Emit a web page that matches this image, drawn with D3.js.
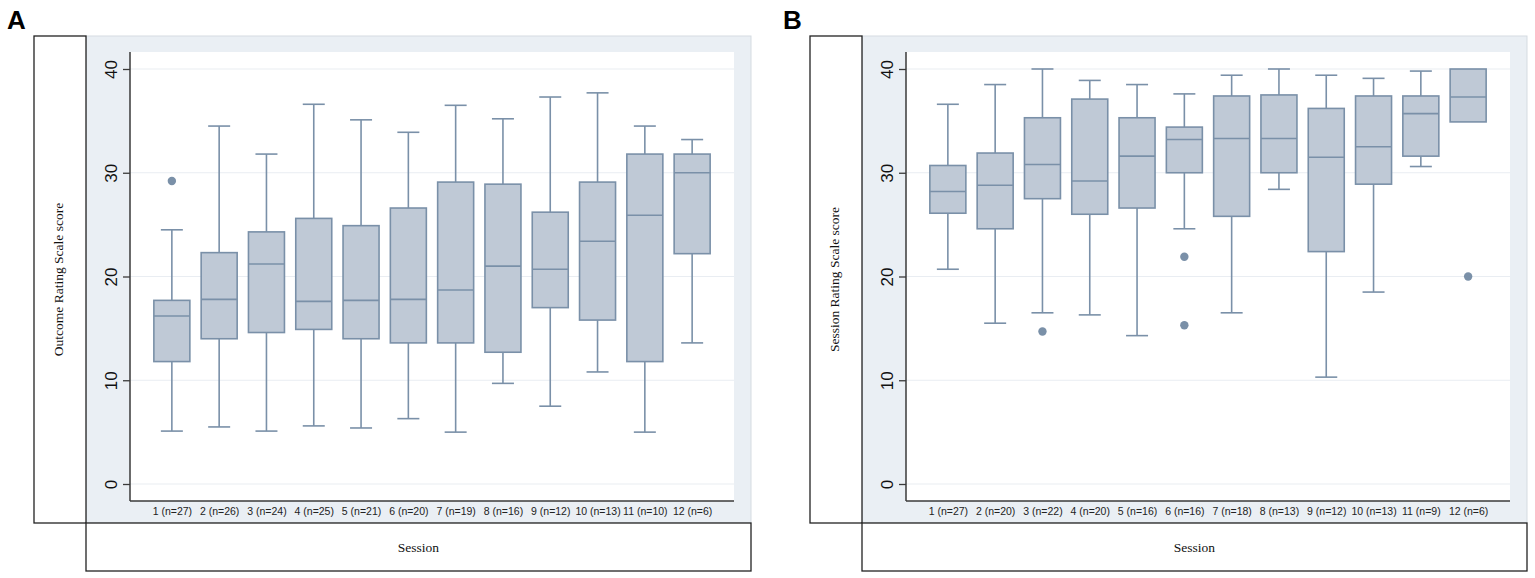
<!DOCTYPE html>
<html>
<head>
<meta charset="utf-8">
<script src="https://cdn.jsdelivr.net/npm/d3@7"></script>
<style>
  html, body { margin: 0; padding: 0; background: #ffffff; }
  svg { display: block; }
</style>
</head>
<body>
<svg id="chart" width="1535" height="578"></svg>
<script>
// ---------- Data ----------
const sessions = ["1","2","3","4","5","6","7","8","9","10","11","12"];
const yTicks = [0, 10, 20, 30, 40];

// Panel A: Outcome Rating Scale
const nA    = [27, 26, 24, 25, 21, 20, 19, 16, 12, 13, 10, 6];
const lowA  = [5.1, 5.5, 5.1, 5.6, 5.4, 6.3, 5.0, 9.7, 7.5, 10.8, 5.0, 13.6];
const q1A   = [11.8, 14.0, 14.6, 14.9, 14.0, 13.6, 13.6, 12.7, 17.0, 15.8, 11.8, 22.2];
const medA  = [16.2, 17.8, 21.2, 17.6, 17.7, 17.8, 18.7, 21.0, 20.7, 23.4, 25.9, 30.0];
const q3A   = [17.7, 22.3, 24.3, 25.6, 24.9, 26.6, 29.1, 28.9, 26.2, 29.1, 31.8, 31.8];
const highA = [24.5, 34.5, 31.8, 36.6, 35.1, 33.9, 36.5, 35.2, 37.3, 37.7, 34.5, 33.2];
const outSessionA = ["1"];
const outValueA   = [29.2];

// Panel B: Session Rating Scale
const nB    = [27, 20, 22, 20, 16, 16, 18, 13, 12, 13, 9, 6];
const lowB  = [20.7, 15.5, 16.5, 16.3, 14.3, 24.6, 16.5, 28.4, 10.3, 18.5, 30.6, 34.9];
const q1B   = [26.1, 24.6, 27.5, 26.0, 26.6, 30.0, 25.8, 30.0, 22.4, 28.9, 31.6, 34.9];
const medB  = [28.2, 28.8, 30.8, 29.2, 31.6, 33.2, 33.3, 33.3, 31.5, 32.5, 35.7, 37.3];
const q3B   = [30.7, 31.9, 35.3, 37.1, 35.3, 34.4, 37.4, 37.5, 36.2, 37.4, 37.4, 40.0];
const highB = [36.6, 38.5, 40.0, 38.9, 38.5, 37.6, 39.4, 40.0, 39.4, 39.1, 39.8, 40.0];
const outSessionB = ["3", "6", "6", "12"];
const outValueB   = [14.7, 21.9, 15.3, 20.0];

// ---------- Styles ----------
const boxFill = "#bfc9d6";
const boxStroke = "#7a90a8";
const regionFill = "#eaeff4";
const gridColor = "#e9edf2";
const axisColor = "#3a3a3a";

const svg = d3.select("#chart");

function drawPanel(ox, letter, yLabel, n, low, q1, med, q3, high, outS, outV) {
  const g = svg.append("g").attr("transform", `translate(${ox},0)`);

  // outer graph region
  g.append("rect").attr("x", 86).attr("y", 36).attr("width", 665).attr("height", 487)
    .attr("fill", regionFill).attr("stroke", "#d5dbe1").attr("stroke-width", 1);

  // left label box
  g.append("rect").attr("x", 34).attr("y", 36).attr("width", 52).attr("height", 487)
    .attr("fill", "#ffffff").attr("stroke", "#222").attr("stroke-width", 1.3);
  // bottom label box
  g.append("rect").attr("x", 86).attr("y", 523).attr("width", 665).attr("height", 48)
    .attr("fill", "#ffffff").attr("stroke", "#222").attr("stroke-width", 1.3);

  // plot area
  const left = 130, right = 734, top = 52, bottom = 501;
  g.append("rect").attr("x", left).attr("y", top).attr("width", right - left).attr("height", bottom - top)
    .attr("fill", "#ffffff");

  const y = d3.scaleLinear().domain([0, 40]).range([484, 69]);
  const x = d3.scalePoint().domain(sessions).range([left, right]).padding(0.885);

  // grid
  g.append("g").selectAll("line").data(yTicks).join("line")
    .attr("x1", left).attr("x2", right)
    .attr("y1", d => y(d)).attr("y2", d => y(d))
    .attr("stroke", gridColor).attr("stroke-width", 1.2);

  // y axis
  const yAxis = g.append("g").attr("transform", `translate(${left},0)`)
    .call(d3.axisLeft(y).tickValues(yTicks).tickSize(7).tickPadding(6).tickFormat(d3.format("d")));
  yAxis.select(".domain").remove();
  yAxis.selectAll(".tick line").attr("stroke", axisColor).attr("stroke-width", 1.3);
  yAxis.selectAll(".tick text")
    .attr("font-family", "Arial, 'Liberation Sans', sans-serif")
    .attr("font-size", 17).attr("fill", "#111")
    .attr("x", null).attr("dy", null)
    .attr("text-anchor", "middle")
    .attr("transform", "translate(-13,0) rotate(-90)");
  g.append("line").attr("x1", left).attr("x2", left).attr("y1", top).attr("y2", bottom)
    .attr("stroke", axisColor).attr("stroke-width", 1.5);

  // x axis
  const xAxis = g.append("g").attr("transform", `translate(0,${bottom})`)
    .call(d3.axisBottom(x).tickSize(0).tickPadding(14)
      .tickFormat((d, i) => `${d} (n=${n[i]})`));
  xAxis.select(".domain").remove();
  xAxis.selectAll(".tick text")
    .attr("font-family", "Arial, 'Liberation Sans', sans-serif")
    .attr("font-size", 10.5).attr("fill", "#222").attr("dy", "0");
  g.append("line").attr("x1", left).attr("x2", right).attr("y1", bottom).attr("y2", bottom)
    .attr("stroke", axisColor).attr("stroke-width", 1.5);

  const boxW = 36, capW = 22;
  const data = sessions.map((s, i) => ({ s, low: low[i], q1: q1[i], med: med[i], q3: q3[i], high: high[i] }));
  const boxes = g.append("g").selectAll("g").data(data).join("g");

  // whiskers
  boxes.append("line").attr("x1", d => x(d.s)).attr("x2", d => x(d.s))
    .attr("y1", d => y(d.high)).attr("y2", d => y(d.q3))
    .attr("stroke", boxStroke).attr("stroke-width", 1.6);
  boxes.append("line").attr("x1", d => x(d.s)).attr("x2", d => x(d.s))
    .attr("y1", d => y(d.q1)).attr("y2", d => y(d.low))
    .attr("stroke", boxStroke).attr("stroke-width", 1.6);
  // caps
  boxes.filter(d => d.high > d.q3).append("line")
    .attr("x1", d => x(d.s) - capW / 2).attr("x2", d => x(d.s) + capW / 2)
    .attr("y1", d => y(d.high)).attr("y2", d => y(d.high))
    .attr("stroke", boxStroke).attr("stroke-width", 1.6);
  boxes.filter(d => d.low < d.q1).append("line")
    .attr("x1", d => x(d.s) - capW / 2).attr("x2", d => x(d.s) + capW / 2)
    .attr("y1", d => y(d.low)).attr("y2", d => y(d.low))
    .attr("stroke", boxStroke).attr("stroke-width", 1.6);
  // box
  boxes.append("rect")
    .attr("x", d => x(d.s) - boxW / 2).attr("width", boxW)
    .attr("y", d => y(d.q3)).attr("height", d => y(d.q1) - y(d.q3))
    .attr("fill", boxFill).attr("stroke", boxStroke).attr("stroke-width", 1.6);
  // median
  boxes.append("line")
    .attr("x1", d => x(d.s) - boxW / 2).attr("x2", d => x(d.s) + boxW / 2)
    .attr("y1", d => y(d.med)).attr("y2", d => y(d.med))
    .attr("stroke", boxStroke).attr("stroke-width", 1.6);

  // outliers
  g.append("g").selectAll("circle").data(outS.map((s, i) => ({ s, v: outV[i] }))).join("circle")
    .attr("cx", d => x(d.s)).attr("cy", d => y(d.v)).attr("r", 4.2)
    .attr("fill", boxStroke);

  // y label
  g.append("text")
    .attr("transform", `translate(63,${(36 + 523) / 2}) rotate(-90)`)
    .attr("text-anchor", "middle")
    .attr("font-family", "'Times New Roman', 'Liberation Serif', serif")
    .attr("font-size", 13.5).attr("fill", "#111")
    .text(yLabel);

  // x label
  g.append("text")
    .attr("x", (86 + 751) / 2).attr("y", 552)
    .attr("text-anchor", "middle")
    .attr("font-family", "'Times New Roman', 'Liberation Serif', serif")
    .attr("font-size", 13.5).attr("fill", "#111")
    .text("Session");

  // panel letter
  g.append("text")
    .attr("x", 7).attr("y", 29)
    .attr("font-family", "Arial, 'Liberation Sans', sans-serif")
    .attr("font-weight", "bold").attr("font-size", 26).attr("fill", "#000")
    .text(letter);
}

drawPanel(0, "A", "Outcome Rating Scale score", nA, lowA, q1A, medA, q3A, highA, outSessionA, outValueA);
drawPanel(776, "B", "Session Rating Scale score", nB, lowB, q1B, medB, q3B, highB, outSessionB, outValueB);
</script>
</body>
</html>
